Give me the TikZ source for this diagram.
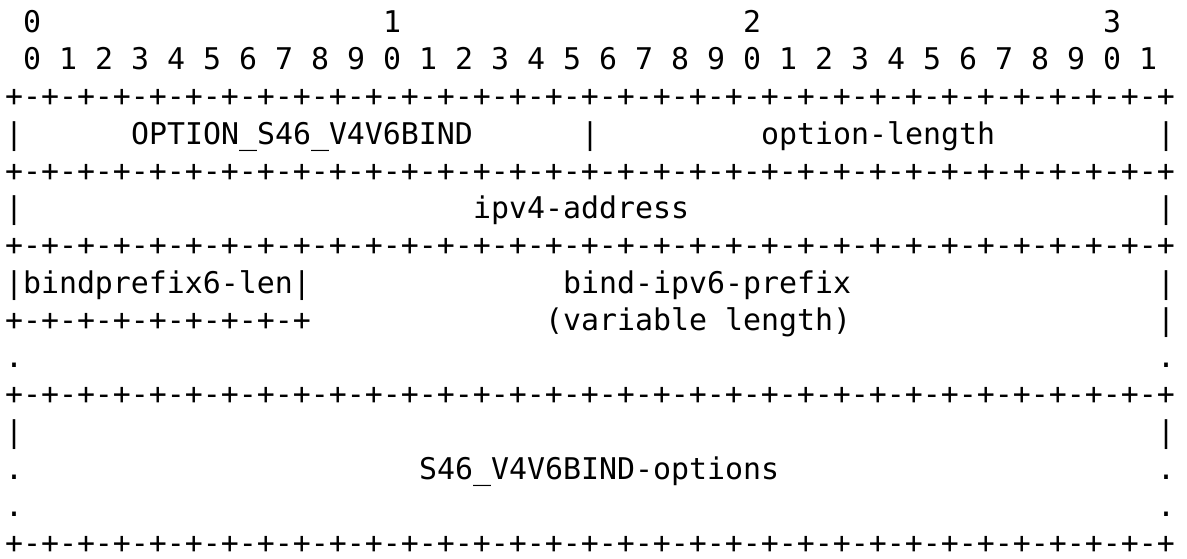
\documentclass[tikz,border=0pt]{standalone}
\usepackage{fontspec}
\setmonofont{DejaVu Sans Mono}
\usepackage{tikz}

% one 16-bit run of the ruler, and a whole 32-bit ruler
\newcommand\bitrun{-+-+-+-+-+-+-+-+}
\newcommand\fullrule{+\bitrun\bitrun\bitrun\bitrun}

\begin{document}
\begin{tikzpicture}[x=9pt,y=-18.62pt,
  txt/.style={font=\ttfamily\fontsize{14.95}{18}\selectfont,text=black,
              inner sep=0pt,outer sep=0pt,anchor=base west}]
\useasboundingbox (0pt,0pt) rectangle (593.5pt,-279pt);

\begin{scope}[xshift=2.5pt,yshift=-16.2pt]
% Bit numbering
\foreach \c/\d in {1/0,21/1,41/2,61/3}
   \node[txt] (dec\d) at (\c,0) {\d};
\foreach \k in {0,...,31}{
   \pgfmathtruncatemacro\c{2*\k+1}
   \pgfmathtruncatemacro\d{mod(\k,10)}
   \node[txt] (bit\k) at (\c,1) {\d};
}

% Rulers
\foreach \r/\n in {2/a,4/b,6/c,10/d,14/e}
   \node[txt] (rule\n) at (0,\r) {\fullrule};

% Edges
\foreach \r/\s in {3/|,5/|,9/.,11/|,12/.,13/.}
   \node[txt] (left\r) at (0,\r) {\s};
\foreach \r/\s in {3/|,5/|,7/|,8/|,9/.,11/|,12/.,13/.}
   \node[txt] (right\r) at (64,\r) {\s};

% Fields
\node[txt] (optcode) at (7,3)  {OPTION\_S46\_V4V6BIND};
\node[txt] (midbar)  at (32,3) {|};
\node[txt] (optlen)  at (42,3) {option-length};
\node[txt] (v4addr)  at (26,5) {ipv4-address};
\node[txt] (plen)    at (0,7)  {|bindprefix6-len|};
\node[txt] (v6pfx)   at (31,7) {bind-ipv6-prefix};
\node[txt] (plenend) at (0,8)  {+\bitrun};
\node[txt] (varlen)  at (30,8) {(variable length)};
\node[txt] (subopts) at (23,12) {S46\_V4V6BIND-options};
\end{scope}
\end{tikzpicture}
\end{document}
